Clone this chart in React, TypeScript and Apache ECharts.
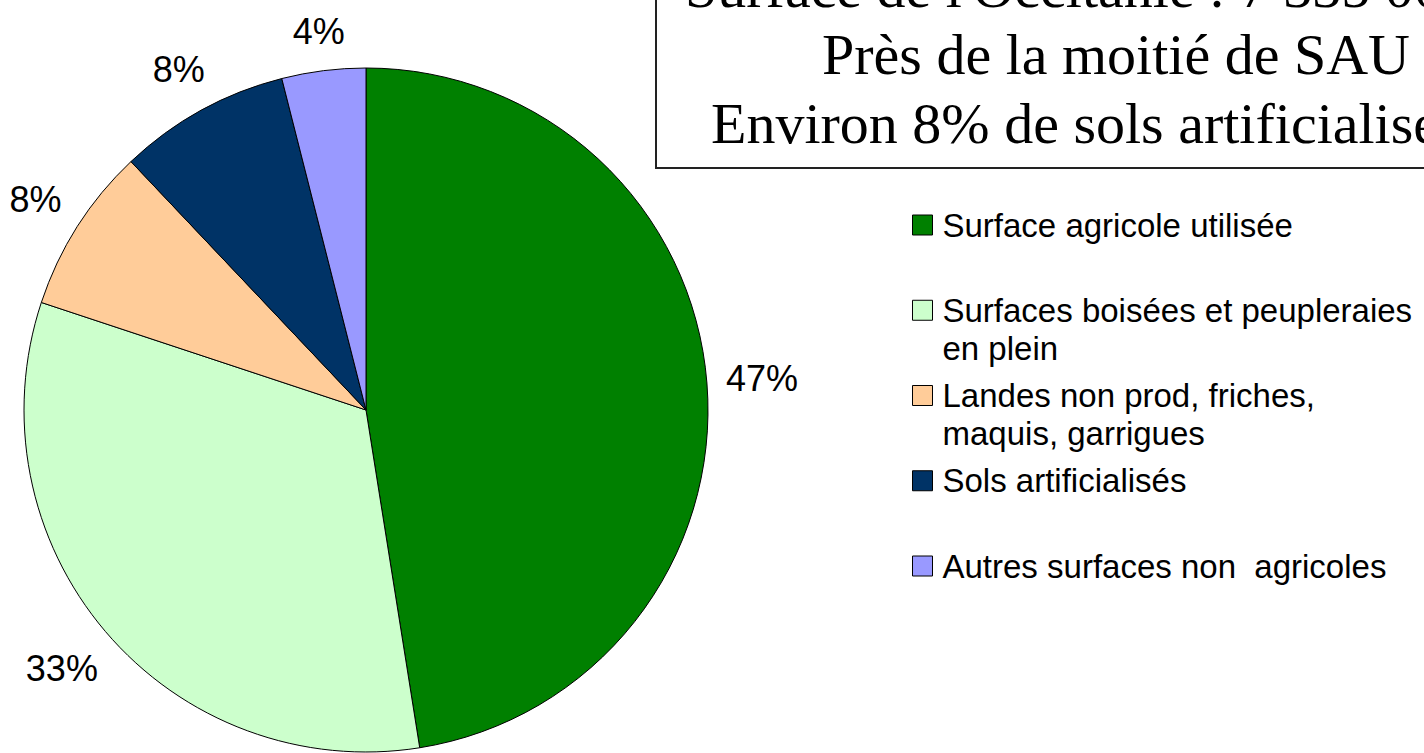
import React, { useEffect, useRef } from 'react';
import * as echarts from 'echarts';

// ---- data ----
const CATEGORIES = [
  'Surface agricole utilisée',
  'Surfaces boisées et peupleraies en plein',
  'Landes non prod, friches, maquis, garrigues',
  'Sols artificialisés',
  'Autres surfaces non  agricoles',
];
const LEGEND_LINES = [
  ['Surface agricole utilisée'],
  ['Surfaces boisées et peupleraies', 'en plein'],
  ['Landes non prod, friches,', 'maquis, garrigues'],
  ['Sols artificialisés'],
  ['Autres surfaces non  agricoles'],
];
const SHARES = [47.49, 32.6, 7.85, 8.1, 3.96];
const COLORS = ['#008000', '#CCFFCC', '#FFCC99', '#003366', '#9999FF'];
const TITLE_LINES = [
  "Surface de l'Occitanie : 7 335 000 ha",
  'Près de la moitié de SAU',
  'Environ 8% de sols artificialisés',
];

const SANS = '"Liberation Sans", Arial, sans-serif';
const SERIF = '"Liberation Serif", "Times New Roman", serif';
const PIE_CENTER = [366, 410];

export default function App() {
  const ref = useRef<HTMLDivElement>(null);

  useEffect(() => {
    if (!ref.current) return;
    const chart = echarts.init(ref.current, undefined, { renderer: 'svg' });
    const data = CATEGORIES.map((name, i) => ({
      name,
      value: SHARES[i],
      itemStyle: { color: COLORS[i] },
    }));
    const labelData = CATEGORIES.map((name, i) => ({ name, value: SHARES[i] }));

    chart.setOption({
      animation: false,
      backgroundColor: '#fff',
      legend: {
        orient: 'vertical',
        left: 912,
        top: 168,
        padding: 0,
        itemGap: -28.75,
        itemWidth: 20,
        itemHeight: 20,
        icon: 'rect',
        selectedMode: false,
        data: CATEGORIES,
        itemStyle: { borderColor: '#000', borderWidth: 1 },
        textStyle: {
          fontFamily: SANS,
          fontSize: 33,
          color: '#000',
          lineHeight: 38,
          padding: [0, 0, 0, 5],
        },
        formatter: (name: string) => {
          const lines = LEGEND_LINES[CATEGORIES.indexOf(name)];
          return '\n' + lines[0] + '\n' + (lines[1] ?? '');
        },
      },
      graphic: [
        {
          type: 'rect',
          z: 10,
          shape: { x: 656, y: -60, width: 900, height: 228 },
          style: { fill: '#fff', stroke: '#222', lineWidth: 2 },
        },
        {
          type: 'text',
          z: 11,
          x: 685,
          y: -13,
          style: {
            text: TITLE_LINES[0],
            font: `58px ${SERIF}`,
            fill: '#000',
            align: 'left',
            verticalAlign: 'middle',
          },
        },
        {
          type: 'text',
          z: 11,
          x: 1116,
          y: 54,
          style: {
            text: TITLE_LINES[1],
            font: `58px ${SERIF}`,
            fill: '#000',
            align: 'center',
            verticalAlign: 'middle',
          },
        },
        {
          type: 'text',
          z: 11,
          x: 711,
          y: 123,
          style: {
            text: TITLE_LINES[2],
            font: `58px ${SERIF}`,
            fill: '#000',
            align: 'left',
            verticalAlign: 'middle',
          },
        },
      ],
      series: [
        {
          type: 'pie',
          center: PIE_CENTER,
          radius: 342,
          startAngle: 90,
          clockwise: true,
          silent: true,
          label: { show: false },
          labelLine: { show: false },
          itemStyle: { borderColor: '#000', borderWidth: 1 },
          emphasis: { disabled: true },
          data,
        },
        {
          type: 'pie',
          center: PIE_CENTER,
          radius: [332, 382],
          startAngle: 90,
          clockwise: true,
          silent: true,
          percentPrecision: 0,
          itemStyle: { color: 'rgba(0,0,0,0)', borderWidth: 0 },
          label: {
            show: true,
            position: 'inside',
            formatter: '{d}%',
            fontFamily: SANS,
            fontSize: 36,
            color: '#000',
          },
          labelLine: { show: false },
          labelLayout: (params: any) => {
            const r = params.labelRect;
            const vx = r.x + r.width / 2 - PIE_CENTER[0];
            const vy = r.y + r.height / 2 - PIE_CENTER[1];
            const len = Math.hypot(vx, vy) || 1;
            const ux = vx / len;
            const uy = vy / len;
            const extra = (Math.abs(ux) * r.width) / 2 + (Math.abs(uy) * r.height) / 2;
            return { dx: ux * extra, dy: uy * extra };
          },
          emphasis: { disabled: true },
          data: labelData,
        },
      ],
    });
    return () => chart.dispose();
  }, []);

  return (
    <div
      ref={ref}
      style={{ position: 'absolute', left: 0, top: 0, width: 1424, height: 753 }}
    />
  );
}
